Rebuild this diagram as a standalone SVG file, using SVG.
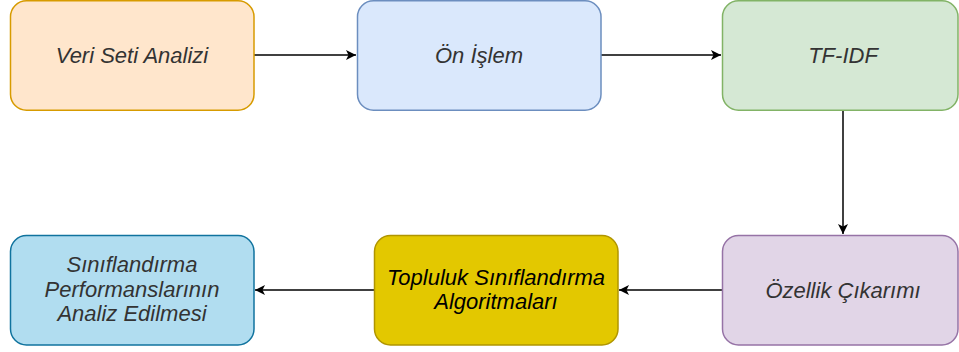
<svg xmlns="http://www.w3.org/2000/svg" width="959" height="352" viewBox="0 0 959 352">
<defs>
<marker id="arr" viewBox="0 0 10 10" refX="10" refY="5" markerWidth="10" markerHeight="10" markerUnits="userSpaceOnUse" orient="auto">
<path d="M0,0 L10,5 L0,10 L2.5,5 Z" fill="#000"/>
</marker>
</defs>
<style>
.n{stroke-width:1.5}
.t{font-family:"Liberation Sans",Arial,sans-serif;font-style:italic;font-size:22px;fill:#333333;text-anchor:middle}
.e{stroke:#000;stroke-width:1.5;fill:none;marker-end:url(#arr)}
</style>
<rect width="959" height="352" fill="#fff"/>
<g id="edges">
<path class="e" d="M254,55 H356"/>
<path class="e" d="M601,55 H721"/>
<path class="e" d="M843,110 V234"/>
<path class="e" d="M722,290 H619"/>
<path class="e" d="M374,290 H255"/>
</g>
<g id="n1">
<rect class="n" x="10.5" y="0.75" width="243.5" height="109.5" rx="16" fill="#ffe6cc" stroke="#d79b00"/>
<text class="t" x="132" y="63">Veri Seti Analizi</text>
</g>
<g id="n2">
<rect class="n" x="357.5" y="0.75" width="243.5" height="109.5" rx="16" fill="#dae8fc" stroke="#6c8ebf"/>
<text class="t" x="479" y="63">Ön İşlem</text>
</g>
<g id="n3">
<rect class="n" x="722.5" y="0.75" width="235.5" height="109.5" rx="16" fill="#d5e8d4" stroke="#82b366"/>
<text class="t" x="843" y="63">TF-IDF</text>
</g>
<g id="n4">
<rect class="n" x="722.5" y="235.5" width="235.5" height="109.5" rx="16" fill="#e1d5e7" stroke="#9673a6"/>
<text class="t" x="843" y="298">Özellik Çıkarımı</text>
</g>
<g id="n5">
<rect class="n" x="374.5" y="235.5" width="243.5" height="109.5" rx="16" fill="#e3c800" stroke="#b09500"/>
<text class="t" x="496" y="285" fill="#000" style="fill:#000">Topluluk Sınıflandırma</text>
<text class="t" x="496" y="309" style="fill:#000">Algoritmaları</text>
</g>
<g id="n6">
<rect class="n" x="10.5" y="235.5" width="243.5" height="109.5" rx="16" fill="#b1ddf0" stroke="#10739e"/>
<text class="t" x="132" y="272">Sınıflandırma</text>
<text class="t" x="132" y="297">Performanslarının</text>
<text class="t" x="132" y="321">Analiz Edilmesi</text>
</g>
</svg>
